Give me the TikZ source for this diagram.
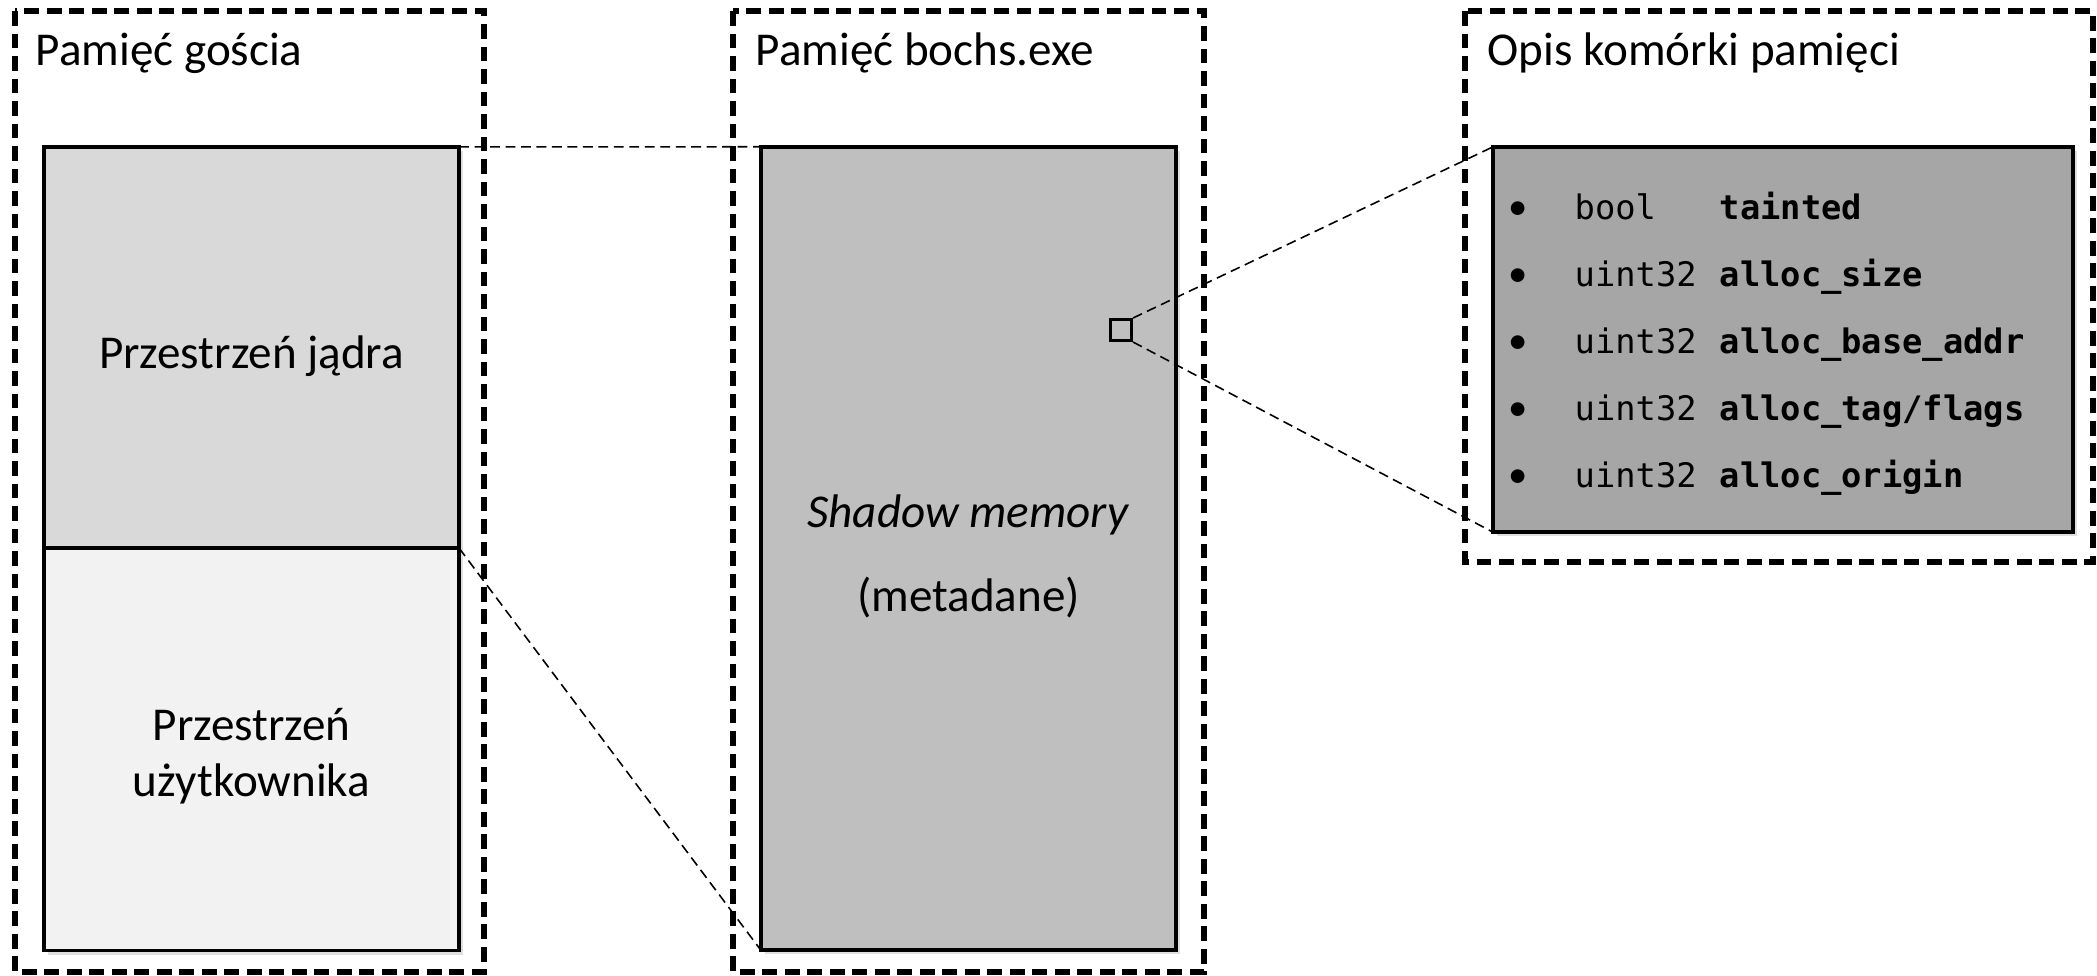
\documentclass[tikz,border=0pt]{standalone}
\usepackage{fontspec}
\setmainfont{Carlito}
\setmonofont{DejaVu Sans Mono}
\usetikzlibrary{positioning,shadows}
\definecolor{kernelgrey}{HTML}{D9D9D9}
\definecolor{usergrey}{HTML}{F2F2F2}
\definecolor{shadowgrey}{HTML}{BFBFBF}
\definecolor{descgrey}{HTML}{A6A6A6}

\begin{document}
\begin{tikzpicture}[x=0.01cm, y=-0.01cm,
    frame/.style={draw, line width=1.6pt, dash pattern=on 4.2pt off 2.2pt},
    membox/.style={draw, line width=1pt, outer sep=0pt, inner sep=0pt,
      drop shadow={shadow xshift=1.2pt, shadow yshift=-1.2pt, opacity=0.25}},
    boxtxt/.style={align=center, inner sep=0pt, font=\fontsize{13.4pt}{16pt}\selectfont},
    link/.style={line width=0.45pt, dash pattern=on 2.8pt off 1.6pt},
    title/.style={anchor=base west, inner sep=0pt, font=\fontsize{13.4pt}{16pt}\selectfont},
    rowtxt/.style={anchor=base west, inner sep=0pt, font=\ttfamily\fontsize{9.6pt}{12pt}\selectfont}]
    \useasboundingbox (0,0) rectangle (2097,975);

    % Ramki (przerywane)
    \draw[frame] (15,11) rectangle (484,972);
    \draw[frame] (733,11) rectangle (1204,972);
    \draw[frame] (1465,11) rectangle (2093,562);
    \node[title] (guestT) at (35,65) {Pamięć gościa};
    \node[title] (bochsT) at (755,65) {Pamięć bochs.exe};
    \node[title] (descT) at (1487,65) {Opis komórki pamięci};

    % Pamięć gościa
    \node[membox, fill=kernelgrey, minimum width=4.15cm, minimum height=4.01cm] (kernel) at (251.5,347.5) {};
    \node[membox, fill=usergrey, minimum width=4.15cm, minimum height=4.02cm, below=0pt of kernel] (user) {};
    \node[boxtxt] (kernelT) at ([yshift=-2.4pt]kernel.center) {Przestrzeń jądra};
    \node[boxtxt] (userT) at ([yshift=-2pt]user.center) {Przestrzeń\\użytkownika};

    % Shadow memory
    \node[membox, fill=shadowgrey, minimum width=4.15cm, minimum height=8.03cm] (shadow) at (968.5,548.5) {};
    \node[boxtxt] (shadowT) at ([yshift=-2.2pt]shadow.center) {\textit{Shadow memory}\\[8pt](metadane)};
    \node[draw, line width=0.85pt, minimum size=0.21cm, inner sep=0pt] (cell) at (1121,330) {};

    % Opis komórki
    \node[membox, fill=descgrey, minimum width=5.8cm, minimum height=3.85cm] (desc) at (1783,339.5) {};
    \foreach \i/\typ/\fld in {0/bool/tainted, 1/uint32/alloc\_size, 2/uint32/alloc\_base\_addr, 3/uint32/{alloc\_tag/flags}, 4/uint32/alloc\_origin}{
      \node[anchor=base, inner sep=0pt, font=\fontsize{11pt}{13pt}\selectfont] (bul\i) at (1518,219+67*\i) {•};
      \node[rowtxt] (typ\i) at (1574,219+67*\i) {\typ};
      \node[rowtxt] (fld\i) at (1719,219+67*\i) {\textbf{\fld}};
    }

    % Linie łączące
    \draw[link] (kernel.north east) -- (shadow.north west);
    \draw[link] (kernel.south east) -- (shadow.south west);
    \draw[link] (cell.north east) -- (desc.north west);
    \draw[link] (cell.south east) -- (desc.south west);
\end{tikzpicture}
\end{document}
